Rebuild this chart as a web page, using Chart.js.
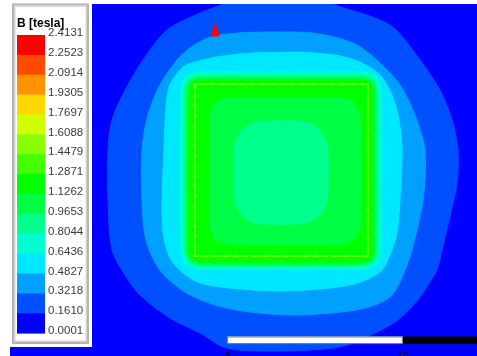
<!DOCTYPE html>
<html>
<head>
<meta charset="utf-8">
<script src="https://cdn.jsdelivr.net/npm/chart.js@4/dist/chart.umd.min.js"></script>
<style>
  html, body { margin: 0; padding: 0; background: #ffffff; }
  #wrap { position: relative; width: 477px; height: 356px; }
</style>
</head>
<body>
<div id="wrap"><canvas id="field"></canvas></div>
<script>
// Colour key: level values (tesla), top to bottom, and one colour per band between them
const legendTitle = 'B [tesla]';
const legendLevels = ['2.4131', '2.2523', '2.0914', '1.9305', '1.7697', '1.6088', '1.4479', '1.2871',
                      '1.1262', '0.9653', '0.8044', '0.6436', '0.4827', '0.3218', '0.1610', '0.0001'];
const legendColors = ['#FF0000', '#FF4A00', '#FF9400', '#FFD800', '#D2FF00', '#88FF00', '#44FF00', '#00FF00',
                      '#00FF44', '#00FF8C', '#00FFD0', '#00E8FF', '#00A0FF', '#0050FF', '#0000FF'];

// Iso-lines of |B| in the plane, coordinates in mm from the magnet centre
const iso0161 = [[-0.06,10.28],[2.10,10.17],[2.95,9.49],[4.89,8.86],[6.36,8.18],[7.90,6.31],[9.03,4.60],
  [9.72,2.90],[10.06,1.19],[10.00,-0.68],[9.60,-2.61],[9.15,-4.49],[8.86,-5.63],[8.35,-6.48],[7.78,-7.33],
  [6.48,-8.58],[4.09,-9.77],[2.95,-10.06],[-0.06,-10.23],[-3.07,-10.06],[-4.60,-9.20],[-6.31,-8.35],
  [-8.01,-7.05],[-8.86,-5.91],[-9.60,-4.49],[-9.83,-1.65],[-9.83,1.19],[-9.60,2.90],[-8.86,4.60],
  [-7.84,6.31],[-6.48,8.01],[-4.60,8.98],[-3.30,9.49],[-2.33,10.17],[-0.06,10.28]];
const iso0322 = [[-0.80,7.90],[1.82,7.84],[4.09,7.27],[5.45,6.31],[6.76,4.89],[7.61,3.18],[8.18,1.19],
  [8.07,-1.65],[7.44,-4.49],[7.05,-5.63],[6.31,-7.05],[5.34,-7.61],[3.92,-7.95],[0.91,-8.18],[-1.76,-8.01],
  [-3.75,-7.61],[-5.45,-6.88],[-6.88,-5.63],[-7.67,-3.92],[-7.90,-1.65],[-7.90,1.19],[-7.56,3.18],
  [-6.88,4.89],[-5.91,6.31],[-5.17,6.99],[-4.03,7.61],[-2.44,7.84],[-0.80,7.90]];
const iso0483 = [[1.08,6.76],[3.07,6.59],[4.49,6.19],[5.63,5.45],[6.31,4.32],[6.70,2.90],[6.88,1.19],
  [6.76,-1.65],[6.59,-3.52],[6.19,-4.77],[5.63,-5.74],[3.92,-6.48],[0.11,-6.82],[-2.90,-6.65],[-4.60,-6.36],
  [-5.63,-5.74],[-6.31,-4.94],[-6.70,-3.52],[-6.76,-1.65],[-6.65,1.19],[-6.53,3.75],[-6.31,4.89],
  [-5.57,5.91],[-4.89,6.19],[-3.64,6.48],[-1.76,6.70],[1.08,6.76]];
const iso0644 = [[0,5.63],[4.77,5.63],[5.42,5.36],[5.68,4.72],[5.68,-4.66],[5.42,-5.31],[4.77,-5.57],
  [-4.77,-5.57],[-5.42,-5.31],[-5.68,-4.66],[-5.68,4.72],[-5.42,5.36],[-4.77,5.63],[0,5.63]];
const iso0804 = [[0,5.45],[4.72,5.45],[5.28,5.22],[5.51,4.66],[5.51,-4.60],[5.28,-5.16],[4.72,-5.40],
  [-4.72,-5.40],[-5.28,-5.16],[-5.51,-4.60],[-5.51,4.66],[-5.28,5.22],[-4.72,5.45],[0,5.45]];
const iso0965 = [[0,5.31],[4.69,5.31],[5.17,5.11],[5.37,4.63],[5.37,-4.60],[5.17,-5.09],[4.69,-5.28],
  [-4.69,-5.28],[-5.17,-5.09],[-5.37,-4.60],[-5.37,4.63],[-5.17,5.11],[-4.69,5.31],[0,5.31]];
const iso1126 = [[0,5.17],[4.66,5.17],[5.06,5.01],[5.23,4.60],[5.23,-4.60],[5.06,-5.01],[4.66,-5.17],
  [-4.66,-5.17],[-5.06,-5.01],[-5.23,-4.60],[-5.23,4.60],[-5.06,5.01],[-4.66,5.17],[0,5.17]];
// inner fall-off of the field inside the magnet face
const iso1126Inner = [[0,4.15],[3.47,4.15],[4.19,3.85],[4.49,3.13],[4.49,-3.13],[4.19,-3.85],[3.47,-4.15],
  [-3.01,-4.15],[-3.74,-3.85],[-4.03,-3.13],[-4.03,3.13],[-3.74,3.85],[-3.01,4.15],[0,4.15]];
const iso0965Inner = [[0,2.84],[0.97,2.84],[1.62,2.71],[2.17,2.34],[2.54,1.79],[2.67,1.14],[2.67,-1.31],
  [2.54,-1.96],[2.17,-2.51],[1.62,-2.88],[0.97,-3.01],[-0.97,-3.01],[-1.62,-2.88],[-2.17,-2.51],
  [-2.54,-1.96],[-2.67,-1.31],[-2.67,1.14],[-2.54,1.79],[-2.17,2.34],[-1.62,2.71],[-0.97,2.84],[0,2.84]];
// thin ridge of higher flux along the magnet edge
const edgeRidge = [[0,4.94],[4.94,4.94],[4.94,-4.83],[-4.89,-4.83],[-4.89,4.94],[0,4.94]];
// location of the maximum value
const maxMarker = [[-3.75,8.35],[-3.52,7.67],[-3.98,7.67],[-3.75,8.35]];

// Length scale (mm)
const scaleBarTicks = [0, 10, 20];
const scaleBarOrigin = -3.07;
const scaleBarY = [-9.40, -9.83];

const view = { xMin: -15.40, xMax: 11.14, yMin: -10.51, yMax: 9.49 };

const toXY = pts => pts.map(([x, y]) => ({ x, y }));

// filled bands, outermost first (each one covers the ones before it)
const bands = [
  { pts: iso0161, color: legendColors[13], tension: 0.3 },
  { pts: iso0322, color: legendColors[12], tension: 0.3 },
  { pts: iso0483, color: legendColors[11], tension: 0.3 },
  { pts: iso0644, color: legendColors[10], tension: 0.1 },
  { pts: iso0804, color: legendColors[9], tension: 0.1 },
  { pts: iso0965, color: legendColors[8], tension: 0.1 },
  { pts: iso1126, color: legendColors[7], tension: 0.1 },
  { pts: iso1126Inner, color: legendColors[8], tension: 0.15 },
  { pts: iso0965Inner, color: legendColors[9], tension: 0.3 }
];

const datasets = bands.map((b, i) => ({
  data: toXY(b.pts),
  showLine: true,
  fill: 'shape',
  backgroundColor: b.color,
  borderColor: b.color,
  borderWidth: 1,
  pointRadius: 0,
  tension: b.tension,
  order: 100 - i
}));

datasets.push({
  data: toXY(edgeRidge), showLine: true, fill: false,
  borderColor: legendColors[6], borderWidth: 2, pointRadius: 0, tension: 0, order: 10
});
datasets.push({
  data: toXY(edgeRidge), showLine: true, fill: false,
  borderColor: '#9CFF00', borderWidth: 2, borderDash: [3, 7], pointRadius: 0, tension: 0, order: 9
});
datasets.push({
  data: toXY(maxMarker), showLine: true, fill: 'shape',
  backgroundColor: legendColors[0], borderColor: legendColors[0], borderWidth: 1,
  pointRadius: 0, tension: 0, order: 1
});

// background of the plotted region = lowest band
const fieldBackground = {
  id: 'fieldBackground',
  beforeDatasetsDraw(chart) {
    const { ctx, chartArea: a } = chart;
    ctx.save();
    ctx.fillStyle = legendColors[14];
    ctx.fillRect(a.left, a.top, a.right - a.left, a.bottom - a.top);
    ctx.restore();
  }
};

// colour key panel on the left
const keyPanel = {
  id: 'keyPanel',
  afterDatasetsDraw(chart) {
    const ctx = chart.ctx;
    ctx.save();
    ctx.fillStyle = '#ffffff';
    ctx.fillRect(0, 0, 92, 347);
    ctx.strokeStyle = '#b4b4b4';
    ctx.lineWidth = 2;
    ctx.strokeRect(13, 4.5, 75, 338.5);
    ctx.strokeStyle = '#d6d6d6';
    ctx.lineWidth = 1.5;
    ctx.strokeRect(14.75, 6.25, 71.5, 335);

    const top = 35, bottom = 333;
    const h = (bottom - top) / legendColors.length;
    legendColors.forEach((c, i) => {
      ctx.fillStyle = c;
      ctx.fillRect(17, top + i * h, 28, h + 0.6);
    });

    ctx.fillStyle = '#000000';
    ctx.font = 'bold 12px "Liberation Sans", Arial, sans-serif';
    ctx.textBaseline = 'alphabetic';
    ctx.textAlign = 'left';
    ctx.fillText(legendTitle, 17, 26.5);

    ctx.fillStyle = '#3a3a3a';
    ctx.font = '11.5px "Liberation Sans", Arial, sans-serif';
    ctx.textBaseline = 'middle';
    legendLevels.forEach((t, i) => ctx.fillText(t, 48, top + i * h - 2));
    ctx.restore();
  }
};

// scale bar at the bottom of the field
const scaleBar = {
  id: 'scaleBar',
  afterDatasetsDraw(chart) {
    const { ctx } = chart;
    const xs = chart.scales.x, ys = chart.scales.y;
    const px = v => xs.getPixelForValue(scaleBarOrigin + v);
    const y0 = ys.getPixelForValue(scaleBarY[0]);
    const y1 = ys.getPixelForValue(scaleBarY[1]);
    ctx.save();
    ctx.fillStyle = '#000000';
    ctx.fillRect(px(scaleBarTicks[1]), y0, px(scaleBarTicks[2]) - px(scaleBarTicks[1]), y1 - y0);
    ctx.fillStyle = '#ffffff';
    ctx.fillRect(px(scaleBarTicks[0]), y0, px(scaleBarTicks[1]) - px(scaleBarTicks[0]), y1 - y0);
    ctx.strokeStyle = '#7a7a7a';
    ctx.lineWidth = 1;
    ctx.strokeRect(px(scaleBarTicks[0]) + 0.5, y0 + 0.5, px(scaleBarTicks[1]) - px(scaleBarTicks[0]) - 1, y1 - y0 - 1);
    ctx.fillStyle = '#000000';
    ctx.font = '10px "Liberation Sans", Arial, sans-serif';
    ctx.textAlign = 'center';
    ctx.textBaseline = 'top';
    scaleBarTicks.forEach(t => ctx.fillText(String(t), px(t), y1 + 8));
    ctx.restore();
  }
};

new Chart(document.getElementById('field'), {
  type: 'scatter',
  data: { datasets },
  options: {
    responsive: true,
    maintainAspectRatio: false,
    animation: false,
    events: [],
    layout: { padding: { left: 10, top: 4, right: 0, bottom: 0 } },
    scales: {
      x: { type: 'linear', min: view.xMin, max: view.xMax, display: false },
      y: { type: 'linear', min: view.yMin, max: view.yMax, display: false }
    },
    plugins: {
      legend: { display: false },
      tooltip: { enabled: false }
    }
  },
  plugins: [fieldBackground, keyPanel, scaleBar]
});
</script>
</body>
</html>
